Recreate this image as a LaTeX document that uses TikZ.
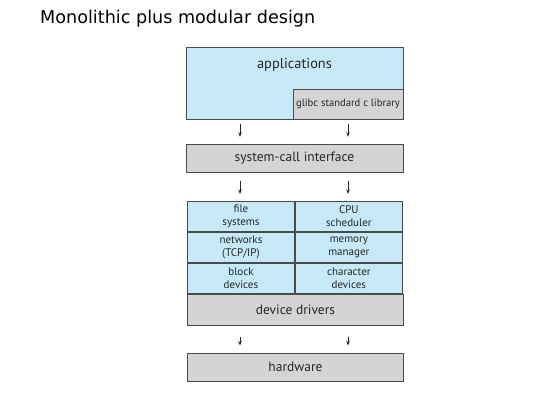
\documentclass[tikz,border=0pt]{standalone}
\usepackage{fontspec}
\setmainfont{PT Sans}
\newfontfamily\titlefont{DejaVu Sans}
\usetikzlibrary{arrows.meta}
\definecolor{lblue}{HTML}{C6E9F8}
\definecolor{lgray}{HTML}{D4D4D6}
\definecolor{edge}{HTML}{4A4A4A}
\tikzset{
  box/.style={draw=edge, line width=0.9pt, rectangle, inner sep=0pt, align=center, font=\fontsize{13.5}{15}\selectfont, text=black!85},
  cell/.style={box, fill=lblue, minimum width=107, minimum height=30, font=\fontsize{11}{13}\selectfont},
  arr/.style={-{Stealth[length=4.5pt,width=3.5pt]}, line width=0.7pt, black!85},
}
\begin{document}
\begin{tikzpicture}[x=1pt,y=-1pt]
\useasboundingbox (0,0) rectangle (534,409);
\node[anchor=base west, font=\titlefont\fontsize{17.6}{19}\selectfont, inner sep=0pt] (title) at (40,24) {Monolithic plus modular design};
% applications
\node[box, fill=lblue, minimum width=217, minimum height=72] (app) at (294.5,83) {};
\node[font=\fontsize{14.4}{16}\selectfont, text=black!85, inner sep=0pt] (applbl) at (294.5,65) {applications};
\node[box, fill=lgray, minimum width=110, minimum height=30, anchor=south east, font=\fontsize{10.6}{12}\selectfont] (glibc) at (app.south east) {glibc standard c library};
% system call
\node[box, fill=lgray, minimum width=217, minimum height=28.5] (sci) at (294.5,158.5) {system-call interface};
% grid
\node[cell, anchor=north west] (fs) at (187,201) {file\\systems};
\node[cell, anchor=north west] (cpu) at (fs.north east) {CPU\\scheduler};
\node[cell, anchor=north west] (net) at (fs.south west) {networks\\(TCP/IP)};
\node[cell, anchor=north west] (mem) at (net.north east) {memory\\manager};
\node[cell, anchor=north west] (blk) at (net.south west) {block\\devices};
\node[cell, anchor=north west] (chr) at (blk.north east) {character\\devices};
\node[box, fill=lgray, minimum width=216, minimum height=31, anchor=north west] (dd) at (blk.south west) {device drivers};
% hardware
\node[box, fill=lgray, minimum width=216, minimum height=28.5, anchor=north west] (hw) at (187,352.5) {hardware};
% arrows
\coordinate (cl) at (240,0);
\coordinate (cr) at (348,0);
\draw[arr, shorten <=5, shorten >=7] (app.south -| cl) -- (sci.north -| cl);
\draw[arr, shorten <=5, shorten >=7] (app.south -| cr) -- (sci.north -| cr);
\draw[arr, shorten <=8, shorten >=7] (sci.south -| cl) -- (fs.north -| cl);
\draw[arr, shorten <=8, shorten >=7] (sci.south -| cr) -- (cpu.north -| cr);
\draw[arr, shorten <=11, shorten >=7] (dd.south -| cl) -- (hw.north -| cl);
\draw[arr, shorten <=11, shorten >=7] (dd.south -| cr) -- (hw.north -| cr);
\end{tikzpicture}
\end{document}
